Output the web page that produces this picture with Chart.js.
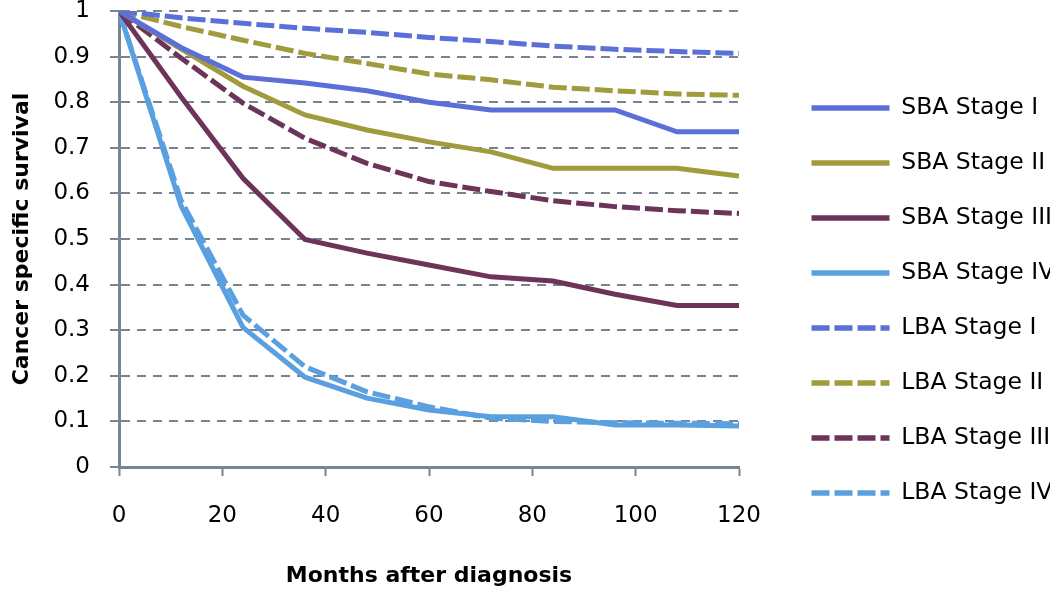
<!DOCTYPE html>
<html>
<head>
<meta charset="utf-8">
<script src="https://cdn.jsdelivr.net/npm/chart.js@4.4.1/dist/chart.umd.min.js"></script>
<style>
  html, body { margin: 0; padding: 0; background: #fff; }
  #wrap { width: 1050px; height: 590px; position: relative; }
</style>
</head>
<body>
<div id="wrap"><canvas id="survChart"></canvas></div>
<script>
// Mesi dopo la diagnosi (punti ogni 12 mesi)
const months = [0, 12, 24, 36, 48, 60, 72, 84, 96, 108, 120];

// Sopravvivenza SBA
const sbaStage1 = [1, 0.92, 0.855, 0.842, 0.825, 0.80, 0.783, 0.783, 0.783, 0.735, 0.735];
const sbaStage2 = [1, 0.917, 0.835, 0.772, 0.739, 0.713, 0.691, 0.655, 0.655, 0.655, 0.638];
const sbaStage3 = [1, 0.812, 0.633, 0.499, 0.469, 0.443, 0.417, 0.408, 0.379, 0.354, 0.354];
const sbaStage4 = [1, 0.573, 0.306, 0.197, 0.151, 0.125, 0.110, 0.110, 0.092, 0.092, 0.090];

// Sopravvivenza LBA
const lbaStage1 = [1, 0.985, 0.973, 0.962, 0.953, 0.942, 0.933, 0.923, 0.916, 0.911, 0.907];
const lbaStage2 = [1, 0.966, 0.936, 0.907, 0.885, 0.862, 0.849, 0.833, 0.825, 0.818, 0.815];
const lbaStage3 = [1, 0.897, 0.798, 0.721, 0.666, 0.626, 0.604, 0.584, 0.571, 0.562, 0.556];
const lbaStage4 = [1, 0.585, 0.333, 0.220, 0.165, 0.132, 0.107, 0.100, 0.097, 0.096, 0.095];

// Etichette degli assi
const xTickValues = [0, 20, 40, 60, 80, 100, 120];
const yTickValues = [0, 0.1, 0.2, 0.3, 0.4, 0.5, 0.6, 0.7, 0.8, 0.9, 1];
const yTickLabels = ["0", "0.1", "0.2", "0.3", "0.4", "0.5", "0.6", "0.7", "0.8", "0.9", "1"];

const seriesNames = [
    "SBA Stage I", "SBA Stage II", "SBA Stage III", "SBA Stage IV",
    "LBA Stage I", "LBA Stage II", "LBA Stage III", "LBA Stage IV"
];
const seriesValues = [sbaStage1, sbaStage2, sbaStage3, sbaStage4, lbaStage1, lbaStage2, lbaStage3, lbaStage4];

const stageColors = ["#5b6fd8", "#a09b3c", "#6b3458", "#5aa0e0"];
const gridGray = "#788591";
const dashPattern = [18, 5];
const fontFamily = "'DejaVu Sans', sans-serif";

const datasets = seriesNames.map((name, i) => ({
    label: name,
    data: months.map((m, j) => ({ x: m, y: seriesValues[i][j] })),
    borderColor: stageColors[i % 4],
    backgroundColor: stageColors[i % 4],
    borderWidth: 5,
    borderDash: i >= 4 ? dashPattern : [],
    borderCapStyle: "butt",
    pointRadius: 0,
    tension: 0,
    fill: false
}));

const ctx = document.getElementById("survChart").getContext("2d");

new Chart(ctx, {
    type: "line",
    data: { datasets: datasets },
    options: {
        responsive: true,
        maintainAspectRatio: false,
        devicePixelRatio: 1,
        animation: false,
        layout: { padding: { top: 11, left: 0, right: 0, bottom: 0 } },
        plugins: {
            tooltip: { enabled: false },
            legend: {
                position: "right",
                align: "center",
                maxWidth: 270,
                labels: {
                    usePointStyle: true,
                    pointStyleWidth: 78,
                    padding: 31.5,
                    color: "#000",
                    font: { family: fontFamily, size: 23.5 },
                    generateLabels: function(chart) {
                        return chart.data.datasets.map((ds, i) => ({
                            text: ds.label,
                            fillStyle: ds.borderColor,
                            strokeStyle: ds.borderColor,
                            lineWidth: 5.5,
                            lineDash: ds.borderDash,
                            lineCap: "butt",
                            pointStyle: "line",
                            rotation: 180,
                            fontColor: "#000",
                            hidden: false,
                            datasetIndex: i
                        }));
                    }
                }
            }
        },
        scales: {
            x: {
                type: "linear",
                min: 0,
                max: 120,
                afterBuildTicks: axis => { axis.ticks = xTickValues.map(v => ({ value: v })); },
                afterFit: scale => { scale.height = 123; },
                grid: {
                    drawOnChartArea: false,
                    drawTicks: true,
                    tickLength: 9,
                    tickWidth: 2,
                    tickColor: gridGray
                },
                border: { display: true, color: gridGray, width: 3 },
                ticks: {
                    color: "#000",
                    padding: 26,
                    maxRotation: 0,
                    font: { family: fontFamily, size: 23 }
                },
                title: {
                    display: true,
                    text: "Months after diagnosis",
                    color: "#000",
                    font: { family: fontFamily, size: 22, weight: "bold" },
                    padding: { top: 0, bottom: 1 }
                }
            },
            y: {
                type: "linear",
                min: 0,
                max: 1,
                afterBuildTicks: axis => { axis.ticks = yTickValues.map(v => ({ value: v })); },
                afterFit: scale => { scale.width = 119; scale.paddingTop = 0; },
                grid: {
                    drawOnChartArea: true,
                    color: gridGray,
                    lineWidth: 2,
                    drawTicks: true,
                    tickLength: 9,
                    tickWidth: 2,
                    tickColor: gridGray,
                    tickBorderDash: []
                },
                border: { display: true, color: gridGray, width: 3, dash: [9, 7] },
                ticks: {
                    color: "#000",
                    padding: 20,
                    font: { family: fontFamily, size: 23 },
                    callback: (v, i) => yTickLabels[i]
                },
                title: {
                    display: true,
                    text: "Cancer specific survival",
                    color: "#000",
                    font: { family: fontFamily, size: 22, weight: "bold" },
                    padding: { top: 9, bottom: 0 }
                }
            },
            // asse fittizio per lasciare spazio tra grafico e legenda
            spacer: {
                type: "linear",
                position: "right",
                display: true,
                afterFit: scale => { scale.width = 41; },
                grid: { display: false },
                border: { display: false },
                ticks: { display: false }
            }
        }
    }
});
</script>
</body>
</html>
